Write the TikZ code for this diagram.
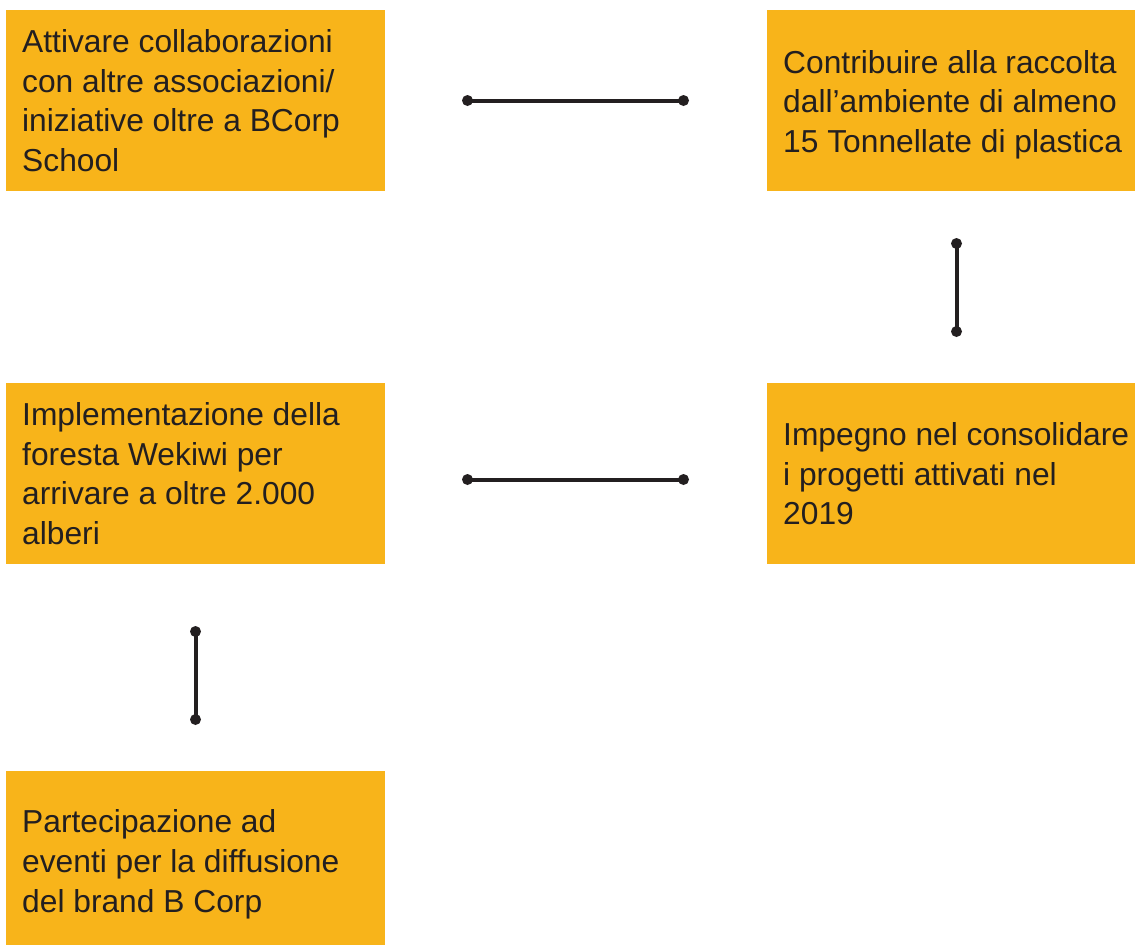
\documentclass[tikz,border=0pt]{standalone}
\usepackage{fontspec}
\setmainfont{Liberation Sans}
\definecolor{boxorange}{HTML}{F8B41A}
\definecolor{ink}{HTML}{231F20}
\begin{document}
\begin{tikzpicture}[x=1pt,y=-1pt,
  box/.style={fill=boxorange,draw=none,inner sep=0pt,anchor=north west},
  txt/.style={anchor=west,align=left,inner sep=0pt,text=ink,font=\fontsize{31.75}{39.8}\selectfont},
  conn/.style={draw=ink,line width=4pt},
  dot/.style={fill=ink}]
\useasboundingbox (0,0) rectangle (1135,946);
% boxes
\node[box,minimum width=379pt,minimum height=181pt] (A) at (6,10) {};
\node[box,minimum width=368pt,minimum height=181pt] (B) at (767,10) {};
\node[box,minimum width=379pt,minimum height=181pt] (C) at (6,383) {};
\node[box,minimum width=368pt,minimum height=181pt] (D) at (767,383) {};
\node[box,minimum width=379pt,minimum height=174pt] (E) at (6,771) {};
% texts
\node[txt] (tA) at ([xshift=16pt]A.west) {Attivare collaborazioni\\con altre associazioni/\\iniziative oltre a BCorp\\School};
\node[txt] (tB) at ([xshift=16pt,yshift=-4pt]B.west) {Contribuire alla raccolta\\dall’ambiente di almeno\\15 Tonnellate di plastica};
\node[txt] (tC) at ([xshift=16pt]C.west) {Implementazione della\\foresta Wekiwi per\\arrivare a oltre 2.000\\alberi};
\node[txt] (tD) at ([xshift=16pt]D.west) {Impegno nel consolidare\\i progetti attivati nel\\2019};
\node[txt] (tE) at ([xshift=16pt,yshift=-6pt]E.west) {Partecipazione ad\\eventi per la diffusione\\del brand B Corp};
% connectors
\coordinate (h1a) at (467.5,100.5);
\coordinate (h1b) at (683.5,100.5);
\coordinate (v1a) at (956.5,243.5);
\coordinate (v1b) at (956.5,331.5);
\coordinate (h2a) at (467.5,479.5);
\coordinate (h2b) at (683.5,479.5);
\coordinate (v2a) at (195.5,631.5);
\coordinate (v2b) at (195.5,719.5);
\foreach \p/\q in {h1a/h1b,v1a/v1b,h2a/h2b,v2a/v2b}{
  \draw[conn] (\p) -- (\q);
  \fill[dot] (\p) circle (5.5pt);
  \fill[dot] (\q) circle (5.5pt);
}
\end{tikzpicture}
\end{document}
